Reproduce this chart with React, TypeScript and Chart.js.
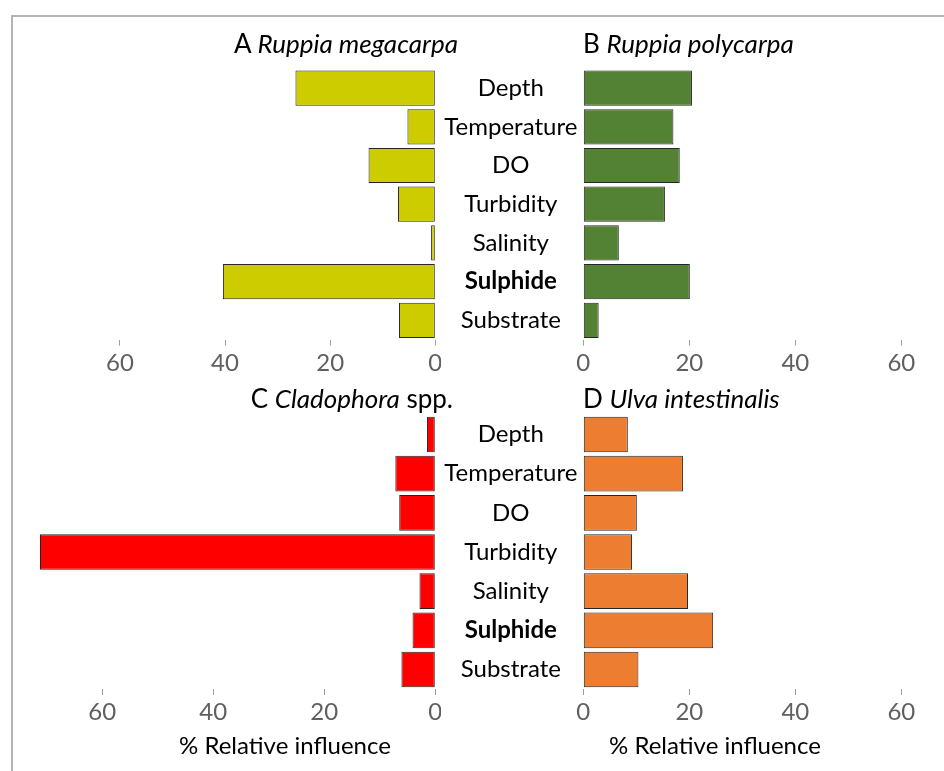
import React, { useEffect, useRef } from "react";
import { Chart, registerables } from "chart.js";

Chart.register(...registerables);

// ---------- data ----------
const categories = ["Depth", "Temperature", "DO", "Turbidity", "Salinity", "Sulphide", "Substrate"];
const boldCategories = ["Sulphide"];
const ruppiaMegacarpa = [26.6, 5.3, 12.7, 7.1, 0.8, 40.4, 6.9];
const ruppiaPolycarpa = [20.5, 17.0, 18.2, 15.4, 6.7, 20.1, 2.9];
const cladophora = [1.5, 7.2, 6.5, 71.2, 2.85, 4.1, 6.1];
const ulvaIntestinalis = [8.4, 18.8, 10.1, 9.2, 19.75, 24.5, 10.4];
const tickValues = [0, 20, 40, 60];
const axisTitle = "% Relative influence";

// ---------- style ----------
const FONT = "Lato, 'Open Sans', sans-serif";
const AXIS_H = 46;
const Y_W = 150;

type Area = { l: number; r: number; t: number; b: number };
type PanelSpec = {
  area: Area;
  values: number[];
  color: string;
  max: number;
  reverse: boolean;
  showCategories: boolean;
};

const panels: PanelSpec[] = [
  { area: { l: 20, r: 435.3, t: 68.75, b: 339.65 }, values: ruppiaMegacarpa, color: "#CCCC00", max: 79, reverse: true, showCategories: false },
  { area: { l: 583.3, r: 938.4, t: 68.75, b: 339.65 }, values: ruppiaPolycarpa, color: "#548235", max: 67, reverse: false, showCategories: true },
  { area: { l: 20, r: 435.3, t: 414.9, b: 689.1 }, values: cladophora, color: "#FF0000", max: 74.8, reverse: true, showCategories: false },
  { area: { l: 583.3, r: 938.4, t: 414.9, b: 689.1 }, values: ulvaIntestinalis, color: "#ED7D31", max: 67, reverse: false, showCategories: true },
];

function geom(p: PanelSpec) {
  const { area } = p;
  const yW = p.showCategories ? Y_W : 0;
  const left = p.showCategories ? Math.floor(area.l - yW - 4) : 0;
  const right = Math.min(944, Math.ceil(area.r + 5));
  const top = Math.floor(area.t - 25);
  const bottom = Math.ceil(area.b + AXIS_H + 4);
  return {
    left,
    top,
    width: right - left,
    height: bottom - top,
    yW,
    padding: {
      left: area.l - yW - left,
      right: right - area.r,
      top: area.t - top,
      bottom: bottom - area.b - AXIS_H,
    },
  };
}

function Panel({ spec }: { spec: PanelSpec }) {
  const ref = useRef<HTMLCanvasElement | null>(null);
  const g = geom(spec);
  useEffect(() => {
    if (!ref.current) return;
    const chart = new Chart(ref.current, {
      type: "bar",
      data: {
        labels: categories,
        datasets: [
          {
            data: spec.values,
            backgroundColor: spec.color,
            borderColor: "#262626",
            borderWidth: 1,
            borderSkipped: false,
            barPercentage: 0.91,
            categoryPercentage: 1,
          },
        ],
      },
      options: {
        indexAxis: "y",
        animation: false,
        responsive: false,
        maintainAspectRatio: false,
        layout: { padding: g.padding },
        plugins: { legend: { display: false }, tooltip: { enabled: false }, title: { display: false } },
        scales: {
          x: {
            type: "linear",
            position: "bottom",
            min: 0,
            max: spec.max,
            reverse: spec.reverse,
            afterBuildTicks: (scale: any) => {
              scale.ticks = tickValues.map((v) => ({ value: v }));
            },
            afterFit: (scale: any) => {
              scale.height = AXIS_H;
            },
            grid: {
              drawOnChartArea: false,
              drawTicks: true,
              tickLength: 6,
              tickWidth: 1,
              tickColor: "#a0a0a0",
            },
            border: { display: false },
            ticks: {
              autoSkip: false,
              maxRotation: 0,
              color: "#5f5f5f",
              padding: 3,
              font: { family: FONT, size: 24 },
            },
          },
          y: {
            type: "category",
            display: spec.showCategories,
            position: "left",
            afterFit: (scale: any) => {
              scale.width = g.yW;
            },
            grid: { display: false, drawTicks: false },
            border: { display: false },
            ticks: {
              crossAlign: "center",
              padding: 6,
              color: "#000000",
              autoSkip: false,
              font: (ctx: any) => ({
                family: FONT,
                size: 24,
                weight: boldCategories.includes(categories[ctx.index]) ? "bold" : "normal",
              }),
            },
          },
        },
      },
    } as any);
    return () => chart.destroy();
  }, []);
  return (
    <canvas
      ref={ref}
      width={g.width}
      height={g.height}
      style={{ position: "absolute", left: g.left, top: g.top, width: g.width, height: g.height }}
    />
  );
}

const titleStyle: React.CSSProperties = {
  position: "absolute",
  fontFamily: FONT,
  fontSize: 26,
  color: "#000",
  height: 30,
  lineHeight: "30px",
  whiteSpace: "nowrap",
};

export default function App() {
  return (
    <div
      style={{
        position: "absolute",
        left: 0,
        top: 0,
        width: 944,
        height: 771,
        background: "#fff",
        overflow: "hidden",
      }}
    >
      <div
        style={{
          position: "absolute",
          left: 11,
          top: 15,
          right: -10,
          bottom: -10,
          borderTop: "2px solid #b4b4b4",
          borderLeft: "2px solid #b4b4b4",
        }}
      />
      {panels.map((p, i) => (
        <Panel key={i} spec={p} />
      ))}
      <div style={{ ...titleStyle, left: 0, width: 458, top: 28, textAlign: "right" }}>
        A <i>Ruppia megacarpa</i>
      </div>
      <div style={{ ...titleStyle, left: 583, top: 28 }}>
        B <i>Ruppia polycarpa</i>
      </div>
      <div style={{ ...titleStyle, left: 0, width: 453, top: 383, textAlign: "right" }}>
        C <i>Cladophora</i> spp.
      </div>
      <div style={{ ...titleStyle, left: 583, top: 383 }}>
        D <i>Ulva intestinalis</i>
      </div>
      <div style={{ ...titleStyle, fontSize: 24, left: 85, width: 400, top: 730, textAlign: "center" }}>{axisTitle}</div>
      <div style={{ ...titleStyle, fontSize: 24, left: 515, width: 400, top: 730, textAlign: "center" }}>{axisTitle}</div>
    </div>
  );
}
